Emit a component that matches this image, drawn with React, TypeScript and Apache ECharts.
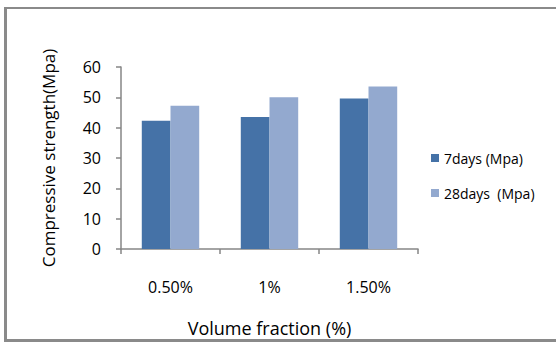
import React, { useEffect, useRef } from "react";
import * as echarts from "echarts";

const categories = ["0.50%", "1%", "1.50%"];
const days7 = [42.3, 43.5, 49.6];
const days28 = [47.2, 50.0, 53.6];
const seriesNames = ["7days (Mpa)", "28days  (Mpa)"];

const FONT = "'Open Sans', sans-serif";
const AXIS_GRAY = "#868686";
const FRAME_GRAY = "#8a8a8a";

export default function App() {
  const ref = useRef<HTMLDivElement>(null);

  useEffect(() => {
    if (!ref.current) return;
    const chart = echarts.init(ref.current, null, { renderer: "svg" });
    chart.setOption({
      animation: false,
      backgroundColor: "#ffffff",
      grid: { left: 121, right: 138, top: 67, bottom: 79, containLabel: false },
      legend: {
        orient: "vertical",
        left: 426,
        top: 146,
        itemWidth: 8,
        itemHeight: 8,
        itemGap: 21,
        icon: "rect",
        textStyle: { fontFamily: FONT, fontSize: 14, color: "#000" },
        data: seriesNames,
      },
      xAxis: {
        type: "category",
        data: categories,
        name: "Volume fraction (%)",
        nameLocation: "middle",
        nameGap: 70,
        nameTextStyle: { fontFamily: FONT, fontSize: 18, color: "#000" },
        axisLine: { lineStyle: { color: AXIS_GRAY, width: 1.5 } },
        axisTick: { show: true, length: 5, alignWithLabel: false, lineStyle: { color: AXIS_GRAY, width: 1.5 } },
        axisLabel: { margin: 30, fontFamily: FONT, fontSize: 16, color: "#000" },
      },
      yAxis: {
        type: "value",
        min: 0,
        max: 60,
        interval: 10,
        name: "Compressive strength(Mpa)",
        nameLocation: "middle",
        nameGap: 64,
        nameTextStyle: { fontFamily: FONT, fontSize: 17, color: "#000" },
        splitLine: { show: false },
        axisLine: { show: true, lineStyle: { color: AXIS_GRAY, width: 1.5 } },
        axisTick: { show: true, length: 5, lineStyle: { color: AXIS_GRAY, width: 1.5 } },
        axisLabel: { margin: 20, fontFamily: FONT, fontSize: 16, color: "#000" },
      },
      series: [
        {
          name: seriesNames[0],
          type: "bar",
          data: days7,
          barGap: "0%",
          barCategoryGap: "42%",
          itemStyle: { color: "#4572a7" },
        },
        {
          name: seriesNames[1],
          type: "bar",
          data: days28,
          barGap: "0%",
          barCategoryGap: "42%",
          itemStyle: { color: "#93a9cf" },
        },
      ],
      graphic: [
        {
          type: "text",
          left: -2,
          top: -19,
          z: 100,
          style: {
            text: "control concrete mix.",
            font: "bold 22px 'Liberation Serif', serif",
            fill: "#000",
          },
        },
        { type: "rect", z: 100, shape: { x: 4, y: 7, width: 552, height: 2 }, style: { fill: FRAME_GRAY } },
        { type: "rect", z: 100, shape: { x: 4, y: 7, width: 3, height: 334 }, style: { fill: FRAME_GRAY } },
        { type: "rect", z: 100, shape: { x: 4, y: 339, width: 552, height: 3 }, style: { fill: FRAME_GRAY } },
      ],
    });
    return () => chart.dispose();
  }, []);

  return (
    <div
      ref={ref}
      style={{ position: "fixed", left: 0, top: 0, width: 556, height: 342 }}
    />
  );
}
